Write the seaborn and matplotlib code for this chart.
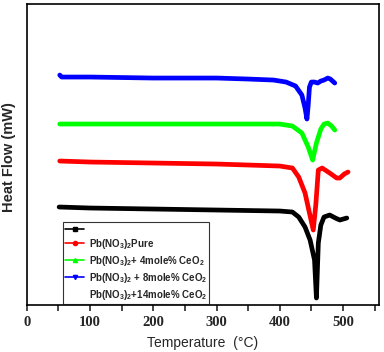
import matplotlib
matplotlib.use("Agg")
import matplotlib.pyplot as plt
import seaborn as sns
import pandas as pd
from matplotlib.lines import Line2D
from matplotlib.ticker import MultipleLocator

# DSC curves (heat flow in arbitrary units, curves offset)
t_blue = [52, 55, 100, 200, 300, 350, 390, 410, 425, 435, 440, 443, 445, 447, 450, 455, 460, 465, 470, 476, 480, 487]
hf_blue = [23.0, 22.8, 22.8, 22.7, 22.7, 22.6, 22.5, 22.3, 21.9, 21.0, 19.7, 18.6, 20.0, 21.8, 22.3, 22.3, 22.2, 22.4, 22.5, 22.7, 22.6, 22.2]

t_green = [52, 100, 200, 300, 400, 420, 435, 445, 452, 458, 465, 470, 476, 482, 487]
hf_green = [18.1, 18.1, 18.1, 18.1, 18.1, 17.9, 17.2, 15.8, 14.5, 16.2, 17.6, 18.1, 18.2, 17.9, 17.5]

t_red = [52, 100, 200, 300, 400, 420, 430, 440, 447, 453, 457, 461, 467, 479, 490, 495, 502, 508]
hf_red = [14.4, 14.3, 14.2, 14.1, 13.9, 13.7, 12.8, 11.2, 9.2, 7.5, 10.0, 13.5, 13.7, 13.2, 12.7, 12.7, 13.1, 13.3]

t_black = [51, 100, 200, 300, 400, 420, 430, 440, 448, 455, 458, 461, 465, 470, 479, 488, 495, 506]
hf_black = [9.8, 9.7, 9.6, 9.5, 9.4, 9.3, 8.8, 7.8, 6.5, 4.5, 0.7, 6.2, 8.0, 8.8, 9.0, 8.7, 8.5, 8.7]

legend_labels = ["",
                 r"Pb(NO$_3$)$_2$Pure",
                 r"Pb(NO$_3$)$_2$+ 4mole% CeO$_2$",
                 r"Pb(NO$_3$)$_2$ + 8mole% CeO$_2$",
                 r"Pb(NO$_3$)$_2$+14mole% CeO$_2$"]

sns.set_style("white")
plt.rcParams["font.family"] = ["Liberation Sans", "DejaVu Sans"]
plt.rcParams["mathtext.default"] = "regular"

fig = plt.figure(figsize=(3.84, 3.52), dpi=100)
ax = fig.add_axes([0.070, 0.1335, 0.917, 0.855])

curves = [(t_black, hf_black, "black"), (t_red, hf_red, "red"),
          (t_green, hf_green, "#00ff00"), (t_blue, hf_blue, "blue")]
for t, hf, c in curves:
    df = pd.DataFrame({"T": t, "HF": hf})
    sns.lineplot(data=df, x="T", y="HF", color=c, lw=3.4, ax=ax,
                 solid_joinstyle="round", solid_capstyle="round")

ax.set_xlim(0, 557)
ax.set_ylim(0, 30.1)
ax.set_yticks([])
ax.xaxis.set_major_locator(MultipleLocator(100))
ax.xaxis.set_minor_locator(MultipleLocator(50))
ax.tick_params(axis="x", which="both", direction="out", bottom=True,
               length=4, width=1.2, pad=4)
for lab in ax.get_xticklabels():
    lab.set_family("Liberation Serif")
    lab.set_weight("bold")
    lab.set_fontsize(10.5)
for s in ax.spines.values():
    s.set_color("black")
    s.set_linewidth(1.2)

ax.set_xlabel("Temperature  (\u00b0C)", fontsize=10, labelpad=5)
ax.set_ylabel("Heat Flow (mW)", fontsize=10.5, fontweight="bold")
ax.yaxis.set_label_coords(-0.031, 0.49)

handles = [
    Line2D([], [], color="black", marker="s", ms=3, lw=1.2),
    Line2D([], [], color="red", marker="o", ms=3, lw=1.2),
    Line2D([], [], color="#00ff00", marker="^", ms=3, lw=1.2),
    Line2D([], [], color="blue", marker="v", ms=3, lw=1.2),
    Line2D([], [], color="none", lw=0),
]
leg = ax.legend(handles, legend_labels, loc="lower left",
                bbox_to_anchor=(0.098, 0.0), frameon=True, fancybox=False,
                prop={"size": 7, "weight": "bold"}, labelspacing=0.3,
                handlelength=2.0, handletextpad=0.5, borderpad=0.2,
                borderaxespad=0.15)
leg.get_frame().set_edgecolor("black")
leg.get_frame().set_linewidth(0.8)

fig.savefig("out.png", dpi=100)
